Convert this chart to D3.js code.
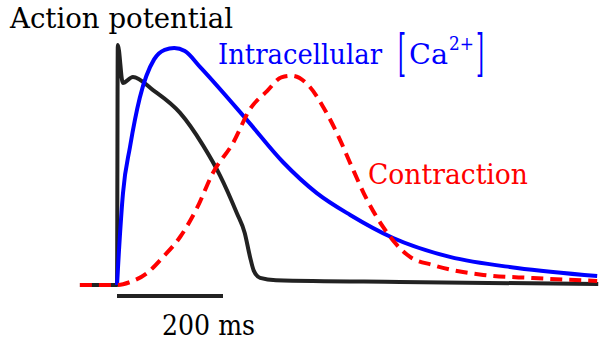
<!DOCTYPE html>
<html>
<head>
<meta charset="utf-8">
<script src="https://cdn.jsdelivr.net/npm/d3@7"></script>
<style>
  html, body { margin: 0; padding: 0; background: #fff; }
  svg { display: block; }
</style>
</head>
<body>
<svg id="chart" width="599" height="341"></svg>
<script>
// time in ms, value normalised to peak
const actionPotential = [
  [-70, 0], [0, 0], [1.5, 1.0], [11, 0.842], [30, 0.867], [68, 0.812],
  [119, 0.717], [162, 0.583], [194, 0.458], [226, 0.3], [241, 0.217],
  [251, 0.117], [258, 0.06], [270, 0.03], [300, 0.02], [534, 0.0125], [908, 0.004]
];
const calcium = [
  [0, 0], [3.8, 0.146], [11.3, 0.383], [24.5, 0.575], [43, 0.78], [70, 0.94],
  [90, 0.98], [108, 0.9875], [128, 0.975], [157, 0.908], [245, 0.688], [313, 0.5125],
  [377, 0.383], [440, 0.292], [521, 0.196], [628, 0.117], [755, 0.071], [906, 0.0375]
];
const contraction = [
  [-70, 0], [0, 0], [25, 0.0125], [57, 0.05], [87, 0.117], [119, 0.2],
  [151, 0.321], [181, 0.467], [219, 0.592], [251, 0.733], [283, 0.808],
  [310, 0.865], [330, 0.872], [364, 0.825], [389, 0.742], [421, 0.604], [440, 0.508],
  [472, 0.354], [502, 0.242], [528, 0.167], [553, 0.117], [596, 0.083],
  [691, 0.042], [785, 0.029], [906, 0.017]
];
const scaleBar = [0, 200];
const scaleLabel = '200 ms';

const serif = 'DejaVu Serif';

const svg = d3.select('#chart');
const x = d3.scaleLinear().domain([0, 200]).range([117, 223]);
const y = d3.scaleLinear().domain([0, 1]).range([285, 45]);

const line = d3.line()
  .x(d => x(d[0]))
  .y(d => y(d[1]))
  .curve(d3.curveMonotoneX);

svg.append('path')
  .attr('d', line(actionPotential))
  .attr('fill', 'none')
  .attr('stroke', '#222')
  .attr('stroke-width', 4)
  .attr('stroke-linejoin', 'round');

svg.append('path')
  .attr('d', line(calcium))
  .attr('fill', 'none')
  .attr('stroke', '#0000ff')
  .attr('stroke-width', 4);

svg.append('path')
  .attr('d', line(contraction))
  .attr('fill', 'none')
  .attr('stroke', '#ff0000')
  .attr('stroke-width', 4)
  .attr('stroke-dasharray', '12,7');

// scale bar
svg.append('line')
  .attr('x1', x(scaleBar[0]))
  .attr('x2', x(scaleBar[1]))
  .attr('y1', 296)
  .attr('y2', 296)
  .attr('stroke', '#222')
  .attr('stroke-width', 4);

function label(txt, px, py, size, color, len) {
  return svg.append('text')
    .attr('x', px)
    .attr('y', py)
    .style('font-family', serif)
    .attr('font-size', size)
    .attr('fill', color)
    .attr('textLength', len)
    .attr('lengthAdjust', 'spacingAndGlyphs')
    .text(txt);
}

label('Action potential', 10, 28, 27, '#000', 223);
label(scaleLabel, 162, 335, 27, '#000', 93);
label('Contraction', 368, 184, 27, '#ff0000', 160);
label('Intracellular', 218, 64, 27, '#0000ff', 164);
label('[', 398, 70, 50, '#0000ff', 8);
label('Ca', 409, 64, 27, '#0000ff', 39);
label('2+', 449, 50, 18, '#0000ff', 25);
label(']', 476, 70, 50, '#0000ff', 8);
</script>
</body>
</html>
